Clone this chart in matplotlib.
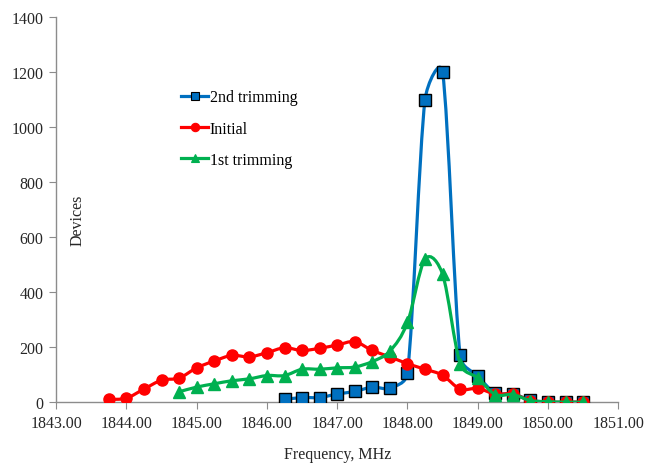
import matplotlib
matplotlib.use('Agg')
import matplotlib.pyplot as plt
import numpy as np
from matplotlib.path import Path
from matplotlib.patches import PathPatch
from matplotlib.lines import Line2D

plt.rcParams['font.family'] = ['Liberation Serif', 'DejaVu Serif']

# frequencies, MHz
freq_initial = [1843.75, 1844.00, 1844.25, 1844.50, 1844.75, 1845.00, 1845.25, 1845.50,
                1845.75, 1846.00, 1846.25, 1846.50, 1846.75, 1847.00, 1847.25, 1847.50,
                1847.75, 1848.00, 1848.25, 1848.50, 1848.75, 1849.00, 1849.25, 1849.50,
                1849.75, 1850.00, 1850.25, 1850.50]
initial = [10, 15, 48, 80, 88, 125, 150, 170, 165, 180, 198, 188, 196, 208, 220, 188,
           165, 140, 120, 98, 48, 50, 30, 30, 6, 0, 0, 0]

freq_first = [1844.75, 1845.00, 1845.25, 1845.50, 1845.75, 1846.00, 1846.25, 1846.50,
              1846.75, 1847.00, 1847.25, 1847.50, 1847.75, 1848.00, 1848.25, 1848.50,
              1848.75, 1849.00, 1849.25, 1849.50, 1849.75, 1850.00, 1850.25, 1850.50]
first = [38, 55, 67, 78, 85, 97, 97, 120, 120, 125, 128, 148, 186, 290, 520, 465,
         140, 88, 28, 28, 6, 2, 0, 0]

freq_second = [1846.25, 1846.50, 1846.75, 1847.00, 1847.25, 1847.50, 1847.75, 1848.00,
               1848.25, 1848.50, 1848.75, 1849.00, 1849.25, 1849.50, 1849.75, 1850.00,
               1850.25, 1850.50]
second = [10, 17, 17, 30, 39, 55, 52, 107, 1100, 1200, 170, 95, 34, 30, 8, 0, 0, 0]


def smooth_path(ax, x, y):
    # Excel-like smoothed line, control points worked out in pixel space
    trans = ax.transData
    p = trans.transform(np.column_stack([x, y]).astype(float))
    n = len(p)
    verts = [p[0]]
    codes = [Path.MOVETO]
    for i in range(n - 1):
        p0 = p[i - 1] if i > 0 else p[i]
        p3 = p[i + 2] if i + 2 < n else p[i + 1]
        d12 = np.hypot(*(p[i + 1] - p[i]))
        d02 = np.hypot(*(p[i + 1] - p0))
        d13 = np.hypot(*(p3 - p[i]))
        f1 = min(1 / 6.0, d12 / (2 * d02)) if d02 > 0 else 0
        f2 = min(1 / 6.0, d12 / (2 * d13)) if d13 > 0 else 0
        c1 = p[i] + (p[i + 1] - p0) * f1
        c2 = p[i + 1] - (p3 - p[i]) * f2
        verts += [c1, c2, p[i + 1]]
        codes += [Path.CURVE4] * 3
    verts = trans.inverted().transform(np.array(verts))
    return Path(verts, codes)


fig = plt.figure(figsize=(6.46, 4.64), dpi=100)
ax = fig.add_axes([0.087, 0.131, 0.87, 0.83])
ax.set_xlim(1843, 1851)
ax.set_ylim(0, 1400)

series = [
    ('2nd trimming', freq_second, second, '#0070C0', 's', 'black'),
    ('Initial', freq_initial, initial, '#FF0000', 'o', '#FF0000'),
    ('1st trimming', freq_first, first, '#00B050', '^', '#00B050'),
]
handles = []
for z, (name, fx, fy, col, mk, ec) in enumerate(series):
    ax.add_patch(PathPatch(smooth_path(ax, fx, fy), facecolor='none', edgecolor=col,
                           lw=2.3, zorder=2 + z * 2, capstyle='round'))
    ax.plot(fx, fy, ls='none', marker=mk, ms=8, mfc=col, mec=ec, mew=1.0,
            zorder=3 + z * 2)
    handles.append(Line2D([], [], color=col, lw=2.3, marker=mk, ms=6, mfc=col,
                          mec=ec, mew=0.8, label=name))

ax.set_xticks(np.arange(1843, 1851.5, 1))
ax.set_xticklabels(['%.2f' % v for v in np.arange(1843, 1851.5, 1)])
ax.set_yticks(np.arange(0, 1401, 200))
for s in ['top', 'right']:
    ax.spines[s].set_visible(False)
for s in ['left', 'bottom']:
    ax.spines[s].set_color('#8c8c8c')
    ax.spines[s].set_linewidth(1.0)
ax.tick_params(direction='out', length=5, color='#8c8c8c', labelsize=11.5,
               labelcolor='#262626', pad=4)
ax.set_xlabel('Frequency, MHz', fontsize=11.5, color='#262626', labelpad=11)
ax.set_ylabel('Devices', fontsize=11.5, color='#262626')
ax.yaxis.set_label_coords(0.052, 0.476)

ax.legend(handles=handles, loc='upper left', bbox_to_anchor=(0.258, 0.836),
          bbox_transform=fig.transFigure, frameon=False, fontsize=11.5,
          handlelength=1.7, handletextpad=0.1, labelspacing=0.95)

fig.savefig('out.png', dpi=100)
